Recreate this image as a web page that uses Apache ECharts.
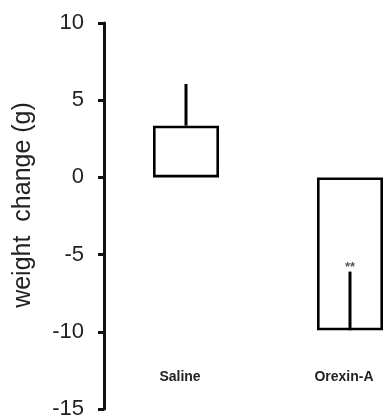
<!DOCTYPE html>
<html>
<head>
<meta charset="utf-8">
<script src="https://cdn.jsdelivr.net/npm/echarts@6/dist/echarts.min.js"></script>
<style>
html,body{margin:0;padding:0;background:#fff;}
#chart{width:383px;height:417px;}
</style>
</head>
<body>
<div id="chart"></div>
<script>
var categories = ['Saline', 'Orexin-A'];
var meanValues = [3.35, -9.9];
var errorValues = [2.7, 3.8];
var sigLabels = ['', '**'];
var yTicks = { min: -15, max: 10, interval: 5 };
var yTitle = 'weight  change (g)';

var chart = echarts.init(document.getElementById('chart'));
var font = 'Arial, "Liberation Sans", Helvetica, sans-serif';

chart.setOption({
  animation: false,
  backgroundColor: '#fff',
  grid: { left: 104, top: 23, height: 386, width: 328, outerBoundsMode: 'none' },
  xAxis: {
    type: 'category',
    data: categories,
    axisLine: { show: false, onZero: false },
    axisTick: { show: false },
    axisLabel: {
      inside: true,
      margin: 25,
      fontFamily: font,
      fontSize: 14,
      fontWeight: 'bold',
      color: '#222',
      padding: [0, 12, 0, 0]
    },
    splitLine: { show: false }
  },
  yAxis: {
    type: 'value',
    min: yTicks.min,
    max: yTicks.max,
    interval: yTicks.interval,
    name: yTitle,
    nameLocation: 'middle',
    nameRotate: 90,
    nameGap: 68,
    nameTextStyle: {
      fontFamily: font,
      fontSize: 25,
      color: '#222',
      padding: [0, 0, 0, 22]
    },
    axisLine: { show: true, lineStyle: { color: '#111', width: 3 } },
    axisTick: { show: true, length: 6, lineStyle: { color: '#111', width: 3 } },
    axisLabel: { margin: 20, fontFamily: font, fontSize: 22, color: '#222' },
    splitLine: { show: false }
  },
  series: [
    {
      type: 'bar',
      data: meanValues,
      barWidth: 66,
      itemStyle: { color: '#fff', borderColor: '#000', borderWidth: 2.6 }
    },
    {
      type: 'custom',
      data: meanValues.map(function (v, i) { return [i, v, errorValues[i]]; }),
      renderItem: function (params, api) {
        var i = api.value(0);
        var m = api.value(1);
        var e = api.value(2);
        var p0 = api.coord([i, m]);
        var p1 = api.coord([i, m + e]);
        var children = [{
          type: 'line',
          shape: { x1: p0[0], y1: p0[1], x2: p1[0], y2: p1[1] },
          style: { stroke: '#000', lineWidth: 3 }
        }];
        var s = sigLabels[params.dataIndex];
        if (s) {
          children.push({
            type: 'text',
            style: {
              text: s,
              x: p1[0],
              y: p1[1] + 2,
              align: 'center',
              verticalAlign: 'bottom',
              fontFamily: font,
              fontSize: 13,
              fontWeight: 'bold',
              fill: '#555'
            }
          });
        }
        return { type: 'group', children: children };
      },
      z: 5
    }
  ]
});
</script>
</body>
</html>
